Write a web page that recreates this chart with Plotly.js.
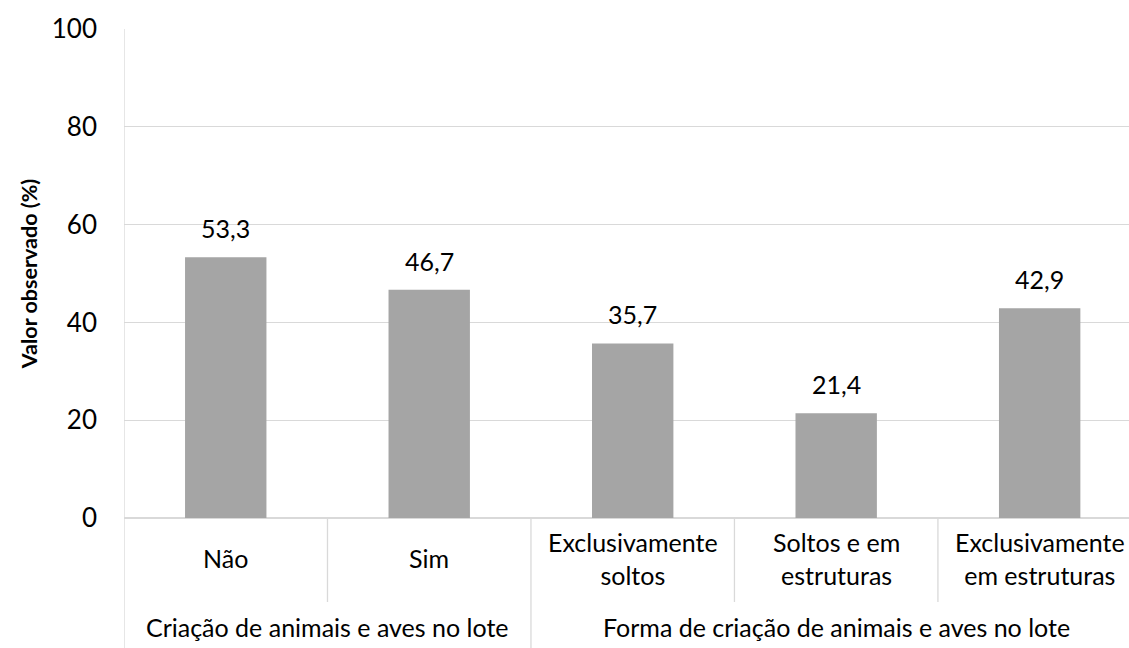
<!DOCTYPE html>
<html>
<head>
<meta charset="utf-8">
<script src="https://cdn.plot.ly/plotly-3.0.1.min.js"></script>
<style>html,body{margin:0;padding:0;background:#fff}#chart{width:1129px;height:648px}</style>
</head>
<body>
<div id="chart"></div>
<script>
const categories = ['Não', 'Sim', 'Exclusivamente<br>soltos', 'Soltos e em<br>estruturas', 'Exclusivamente<br>em estruturas'];
const values = [53.3, 46.7, 35.7, 21.4, 42.9];
const groups = ['Criação de animais e aves no lote', 'Forma de criação de animais e aves no lote'];
const groupSizes = [2, 3];
const yTicks = [0, 20, 40, 60, 80, 100];

const FONT = 'Lato, "Open Sans", sans-serif';
const FS = 25;
const idx = categories.map((_, i) => i);
const fmt = v => v.toFixed(1).replace('.', ',');

const H = 648, T = 29, B = 130;
const plotH = H - T - B;
const px2paper = p => -p / plotH;

const shapes = [];
const annotations = [];
const lineStyle = {color: '#d9d9d9', width: 1.3};

// group boundaries
let start = 0;
const groupBounds = [-0.5];
groups.forEach((g, gi) => {
  const end = start + groupSizes[gi] - 1;
  groupBounds.push(end + 0.5);
  annotations.push({
    xref: 'x', yref: 'paper', x: (start + end) / 2, y: px2paper(109),
    text: g, showarrow: false, xanchor: 'center', yanchor: 'middle',
    font: {family: FONT, size: FS, color: '#000'}
  });
  for (let k = start; k < end; k++) {
    shapes.push({type: 'line', xref: 'x', yref: 'paper', x0: k + 0.5, x1: k + 0.5,
      y0: 0, y1: px2paper(84), line: lineStyle});
  }
  start = end + 1;
});
groupBounds.forEach((b, bi) => {
  shapes.push({type: 'line', xref: 'x', yref: 'paper', x0: b, x1: b,
    y0: bi === 0 ? 1 : 0, y1: px2paper(B + 2), line: lineStyle});
});

idx.forEach(i => {
  annotations.push({
    xref: 'x', yref: 'paper', x: i, y: px2paper(40),
    text: categories[i], showarrow: false, xanchor: 'center', yanchor: 'middle',
    font: {family: FONT, size: FS, color: '#000'}
  });
  annotations.push({
    xref: 'x', yref: 'y', x: i, y: values[i],
    text: fmt(values[i]), showarrow: false, xanchor: 'center', yanchor: 'bottom', yshift: 12,
    font: {family: FONT, size: FS, color: '#000'}
  });
});

const data = [{
  type: 'bar', x: idx, y: values, width: 0.4,
  marker: {color: '#a5a5a5', line: {width: 0}},
  hoverinfo: 'skip'
}];

const layout = {
  width: 1129, height: 648,
  margin: {l: 124, r: 0, t: T, b: B},
  paper_bgcolor: '#fff', plot_bgcolor: '#fff',
  showlegend: false,
  xaxis: {range: [-0.5, 4.439], showticklabels: false, showgrid: false, zeroline: false, ticks: '', fixedrange: true},
  yaxis: {
    range: [0, 100], tickvals: yTicks, ticktext: yTicks.map(String),
    showgrid: true, gridcolor: '#d9d9d9', gridwidth: 1.3, zeroline: true, zerolinecolor: '#d9d9d9', zerolinewidth: 1.3,
    ticks: '', ticklabelstandoff: 26,
    tickfont: {family: FONT, size: 26, color: '#000'},
    title: {text: 'Valor observado (%)', font: {family: FONT, size: 21.5, color: '#000', weight: 'bold'}, standoff: 8},
    automargin: false
  },
  shapes: shapes,
  annotations: annotations
};

Plotly.newPlot('chart', data, layout, {displayModeBar: false, staticPlot: true});
</script>
</body>
</html>
